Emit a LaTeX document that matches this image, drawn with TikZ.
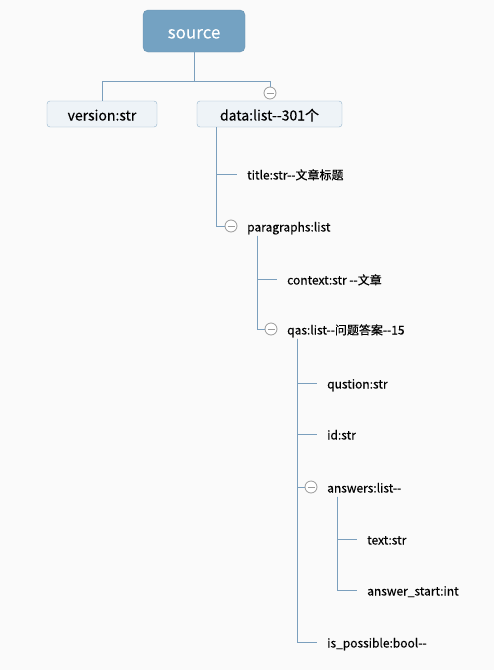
\documentclass[tikz,border=0pt]{standalone}
\usepackage{fontspec}
\setmainfont{Noto Sans CJK SC}[Ligatures=TeXOff, FakeBold=0.15]
\usepackage{tikz}
\usetikzlibrary{positioning}
\usetikzlibrary{calc}
\definecolor{headblue}{HTML}{74A2C2}
\definecolor{boxfill}{HTML}{EEF3F7}
\definecolor{boxline}{HTML}{93B3CC}
\definecolor{treeline}{HTML}{7B9FBD}
\definecolor{knob}{HTML}{9A9A9A}
\definecolor{paper}{HTML}{FAFAFA}
\tikzset{
	root/.style={fill=headblue, draw=headblue!90!black, rounded corners=5pt, minimum width=102pt, minimum height=42pt, inner sep=0pt, text=white, font=\fontsize{17}{19}\selectfont, text height=17pt, text depth=2pt},
	topic/.style={fill=boxfill, draw=boxline, rounded corners=3pt, minimum height=26pt, inner sep=0pt, font=\fontsize{14}{16}\selectfont, text height=15pt, text depth=2pt},
	leaf/.style={anchor=west, inner xsep=10pt, inner ysep=2pt, font=\fontsize{12}{14}\selectfont, text height=13pt, text depth=2pt},
	fold/.style={circle, draw=knob, fill=white, thick, minimum size=12pt, inner sep=0pt, path picture={\draw[knob, thick] ($(path picture bounding box.west)+(2.5pt,0)$) -- ($(path picture bounding box.east)+(-2.5pt,0)$);}},
	branch/.style={treeline, thick}
}
\begin{document}
\begin{tikzpicture}[x=1pt, y=-1pt]
	\useasboundingbox (0,0) rectangle (494,670);
	\fill[paper] (0,0) rectangle (494,670);
	\node[root] (source) at (194,31) {source};
	\node[topic, minimum width=110pt] (version) at (102,114) {version:str};
	\node[topic, minimum width=145pt] (data) at (269.5,114) {data:list--301个};
	\coordinate (fork) at (194,81);
	\draw[branch] (source.south) -- (fork);
	\draw[branch] (fork) -| (version.north);
	\node[fold] (datafold) at (270,93) {};
	\draw[branch] (fork) -| (datafold.north);
	\node[leaf] (title) at (237,174) {title:str--文章标题};
	\node[fold] (parafold) at (231,226) {};
	\node[leaf] (paras) at (237,226) {paragraphs:list};
	\draw[branch] ([xshift=20pt]data.south west) |- (title.west);
	\draw[branch] ([xshift=20pt]data.south west) |- (parafold.west);
	\node[leaf] (context) at (277,279) {context:str --文章};
	\node[fold] (qasfold) at (271,329) {};
	\node[leaf] (qas) at (277,329) {qas:list--问题答案--15};
	\draw[branch] ([xshift=20pt]paras.south west) |- (context.west);
	\draw[branch] ([xshift=20pt]paras.south west) |- (qasfold.west);
	\node[leaf] (question) at (317,383) {qustion:str};
	\node[leaf] (id) at (317,434) {id:str};
	\node[fold] (ansfold) at (311,487) {};
	\node[leaf] (answers) at (317,487) {answers:list--};
	\node[leaf] (possible) at (317,642) {is\_possible:bool--};
	\draw[branch] ([xshift=20pt]qas.south west) |- (question.west);
	\draw[branch] ([xshift=20pt]qas.south west) |- (id.west);
	\draw[branch] ([xshift=20pt]qas.south west) |- (ansfold.west);
	\draw[branch] ([xshift=20pt]qas.south west) |- (possible.west);
	\node[leaf] (text) at (357,539) {text:str};
	\node[leaf] (start) at (357,590) {answer\_start:int};
	\draw[branch] ([xshift=20pt]answers.south west) |- (text.west);
	\draw[branch] ([xshift=20pt]answers.south west) |- (start.west);
\end{tikzpicture}
\end{document}
